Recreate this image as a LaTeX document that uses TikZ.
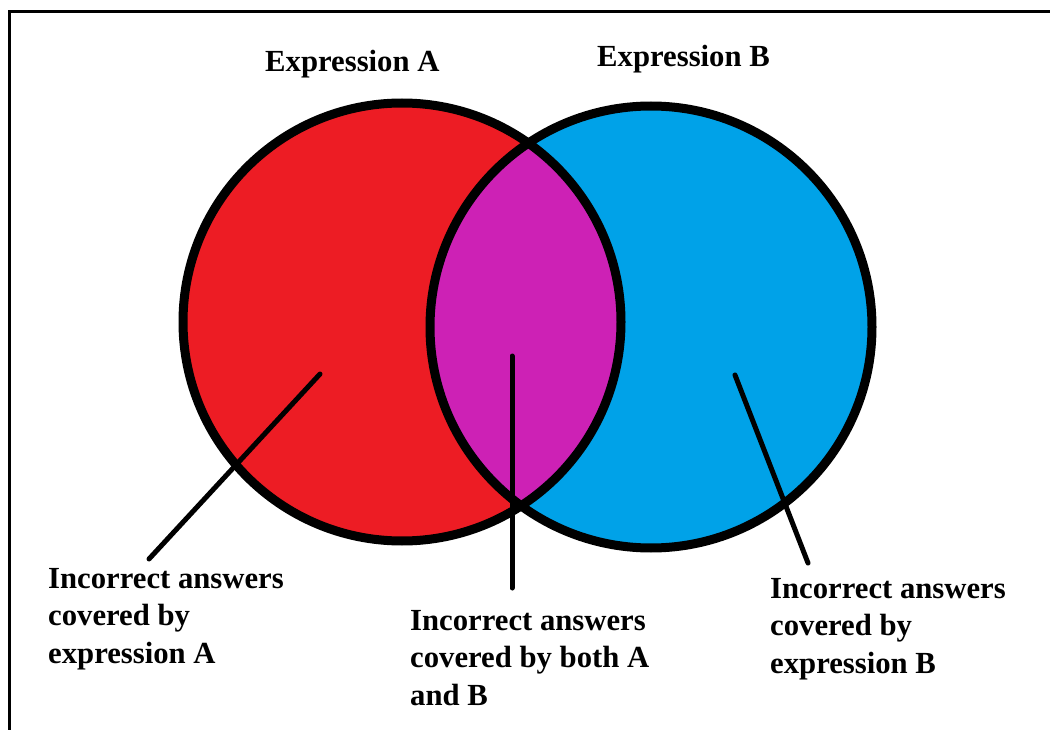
\documentclass[tikz,border=0pt]{standalone}
\usepackage{fontspec}
\setmainfont{Liberation Serif}
\definecolor{setA}{RGB}{237,28,36}
\definecolor{setB}{RGB}{0,162,232}
\definecolor{setAB}{RGB}{205,33,181}
\begin{document}
\begin{tikzpicture}[x=1pt,y=-1pt,
  lbl/.style={font=\fontsize{30.7}{37.5}\selectfont\bfseries, inner sep=0pt, align=left},
  ttl/.style={font=\fontsize{30.7}{37.5}\selectfont\bfseries, inner sep=0pt},
  ring/.style={line width=9pt},
  pointer/.style={line width=5pt, line cap=round}]
\useasboundingbox (0,0) rectangle (1050,730);
\fill[white] (0,0) rectangle (1050,730);
% frame
\coordinate (f1) at (1050,11.3);
\coordinate (f2) at (9.5,11.3);
\coordinate (f3) at (9.5,730);
\draw[line width=2.7pt] (f1) -- (f2) -- (f3);
% circles
\coordinate (cA) at (402,322);
\coordinate (cB) at (651,327);
\fill[setA] (cA) circle[radius=219];
\fill[setB] (cB) circle[radius=221];
\begin{scope}
  \clip (cA) circle[radius=219];
  \fill[setAB] (cB) circle[radius=221];
\end{scope}
\draw[ring] (cA) circle[radius=219];
\draw[ring] (cB) circle[radius=221];
% titles
\node[ttl, anchor=base west] (tA) at (265,72) {Expression A};
\node[ttl, anchor=base west] (tB) at (597,67) {Expression B};
% labels (base anchor = baseline of last line)
\node[lbl, anchor=base west] (lA) at (48,663) {Incorrect answers\\covered by\\expression A};
\node[lbl, anchor=base west] (lAB) at (410,705) {Incorrect answers\\covered by both A\\and B};
\node[lbl, anchor=base west] (lB) at (770,673) {Incorrect answers\\covered by\\expression B};
% pointers
\coordinate (pA1) at (320,374);
\coordinate (pA2) at (149,559);
\coordinate (pM1) at (512,356);
\coordinate (pM2) at (512,588);
\coordinate (pB1) at (735,375);
\coordinate (pB2) at (808,563);
\draw[pointer] (pA1) -- (pA2);
\draw[pointer] (pM1) -- (pM2);
\draw[pointer] (pB1) -- (pB2);
\end{tikzpicture}
\end{document}
